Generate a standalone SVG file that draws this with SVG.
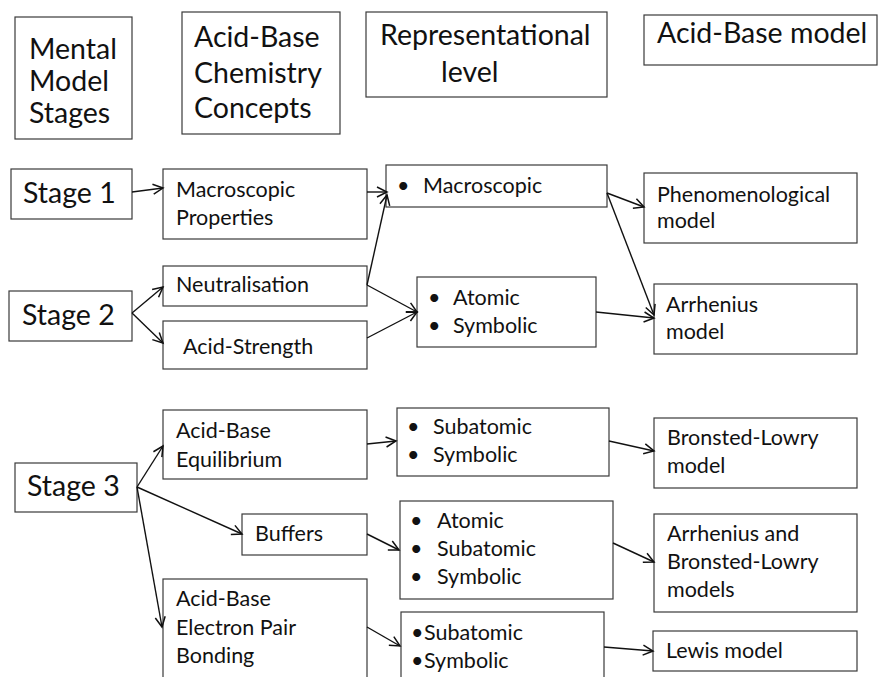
<svg xmlns="http://www.w3.org/2000/svg" width="878" height="677" viewBox="0 0 878 677">
<style>
.b{fill:#fff;stroke:#3a3a3a;stroke-width:1.2}
.h{font-family:Lato,"Open Sans","Liberation Sans",sans-serif;font-size:28.5px;fill:#111}
.t{font-family:Lato,"Open Sans","Liberation Sans",sans-serif;font-size:21.5px;fill:#111}
.c{fill:none;stroke:#111;stroke-width:1.4;marker-end:url(#a)}
</style>
<defs>
<marker id="a" markerUnits="userSpaceOnUse" markerWidth="14" markerHeight="14" refX="11" refY="6" orient="auto">
<path d="M1,1 L11,6 L1,11" fill="none" stroke="#111" stroke-width="1.5"/>
</marker>
</defs>
<rect width="878" height="677" fill="#fff"/>
<g id="h1"><rect class="b" x="15" y="17" width="117" height="122"/><text class="h" x="29" y="59">Mental</text><text class="h" x="29" y="91">Model</text><text class="h" x="29" y="123">Stages</text></g>
<g id="h2"><rect class="b" x="182" y="12" width="158" height="122"/><text class="h" x="194" y="47">Acid-Base</text><text class="h" x="194" y="83">Chemistry</text><text class="h" x="194" y="118">Concepts</text></g>
<g id="h3"><rect class="b" x="366" y="12" width="241" height="85"/><text class="h" x="380" y="45">Representational</text><text class="h" x="441" y="82">level</text></g>
<g id="h4"><rect class="b" x="644" y="15" width="233" height="50"/><text class="h" x="657" y="43">Acid-Base model</text></g>
<g id="s1"><rect class="b" x="11" y="169" width="121" height="50"/><text class="h" x="23" y="203">Stage 1</text></g>
<g id="s2"><rect class="b" x="9" y="291" width="123" height="50"/><text class="h" x="22" y="325">Stage 2</text></g>
<g id="s3"><rect class="b" x="15" y="463" width="122" height="49"/><text class="h" x="27" y="496">Stage 3</text></g>
<g id="c1"><rect class="b" x="163" y="169" width="204" height="70"/><text class="t" x="176" y="197">Macroscopic</text><text class="t" x="176" y="225">Properties</text></g>
<g id="c2"><rect class="b" x="163" y="266" width="204" height="40"/><text class="t" x="176" y="292">Neutralisation</text></g>
<g id="c3"><rect class="b" x="163" y="321" width="204" height="48"/><text class="t" x="183" y="354">Acid-Strength</text></g>
<g id="c4"><rect class="b" x="163" y="410" width="204" height="69"/><text class="t" x="176" y="438">Acid-Base</text><text class="t" x="176" y="467">Equilibrium</text></g>
<g id="c5"><rect class="b" x="242" y="514" width="125" height="41"/><text class="t" x="255" y="541">Buffers</text></g>
<g id="c6"><rect class="b" x="163" y="579" width="204" height="100"/><text class="t" x="176" y="606">Acid-Base</text><text class="t" x="176" y="635">Electron Pair</text><text class="t" x="176" y="663">Bonding</text></g>
<g id="r1"><rect class="b" x="386" y="165" width="221" height="42"/><text class="t" x="397" y="193">•</text><text class="t" x="423" y="193">Macroscopic</text></g>
<g id="r2"><rect class="b" x="417" y="277" width="179" height="70"/><text class="t" x="428" y="305">•</text><text class="t" x="453" y="305">Atomic</text><text class="t" x="428" y="333">•</text><text class="t" x="453" y="333">Symbolic</text></g>
<g id="r3"><rect class="b" x="397" y="408" width="212" height="68"/><text class="t" x="407" y="434">•</text><text class="t" x="433" y="434">Subatomic</text><text class="t" x="407" y="462">•</text><text class="t" x="433" y="462">Symbolic</text></g>
<g id="r4"><rect class="b" x="400" y="501" width="213" height="98"/><text class="t" x="410" y="528">•</text><text class="t" x="437" y="528">Atomic</text><text class="t" x="410" y="556">•</text><text class="t" x="437" y="556">Subatomic</text><text class="t" x="410" y="584">•</text><text class="t" x="437" y="584">Symbolic</text></g>
<g id="r5"><rect class="b" x="401" y="612" width="203" height="70"/><text class="t" x="411" y="640">•</text><text class="t" x="424" y="640">Subatomic</text><text class="t" x="411" y="668">•</text><text class="t" x="424" y="668">Symbolic</text></g>
<g id="m1"><rect class="b" x="644" y="173" width="213" height="70"/><text class="t" x="657" y="202">Phenomenological</text><text class="t" x="657" y="228">model</text></g>
<g id="m2"><rect class="b" x="654" y="284" width="203" height="70"/><text class="t" x="666" y="312">Arrhenius</text><text class="t" x="666" y="339">model</text></g>
<g id="m3"><rect class="b" x="654" y="418" width="203" height="70"/><text class="t" x="667" y="445">Bronsted-Lowry</text><text class="t" x="667" y="473">model</text></g>
<g id="m4"><rect class="b" x="654" y="514" width="203" height="98"/><text class="t" x="667" y="541">Arrhenius and</text><text class="t" x="667" y="569">Bronsted-Lowry</text><text class="t" x="667" y="597">models</text></g>
<g id="m5"><rect class="b" x="653" y="631" width="204" height="40"/><text class="t" x="666" y="658">Lewis model</text></g>
<g id="connectors">
<line class="c" x1="132" y1="192" x2="163" y2="188"/>
<line class="c" x1="132" y1="313" x2="163" y2="287"/>
<line class="c" x1="132" y1="313" x2="163" y2="343"/>
<line class="c" x1="367" y1="192" x2="387" y2="192"/>
<line class="c" x1="367" y1="285" x2="387" y2="195"/>
<line class="c" x1="367" y1="285" x2="417" y2="312"/>
<line class="c" x1="367" y1="338" x2="417" y2="312"/>
<line class="c" x1="607" y1="193" x2="644" y2="207"/>
<line class="c" x1="607" y1="193" x2="654" y2="315"/>
<line class="c" x1="596" y1="312" x2="654" y2="318"/>
<line class="c" x1="137" y1="487" x2="163" y2="446"/>
<line class="c" x1="137" y1="487" x2="242" y2="534"/>
<line class="c" x1="137" y1="487" x2="162" y2="627"/>
<line class="c" x1="367" y1="444" x2="396" y2="441"/>
<line class="c" x1="367" y1="534" x2="399" y2="550"/>
<line class="c" x1="367" y1="627" x2="400" y2="646"/>
<line class="c" x1="609" y1="441" x2="654" y2="451"/>
<line class="c" x1="613" y1="543" x2="654" y2="562"/>
<line class="c" x1="604" y1="647" x2="653" y2="651"/>
</g>
</svg>
